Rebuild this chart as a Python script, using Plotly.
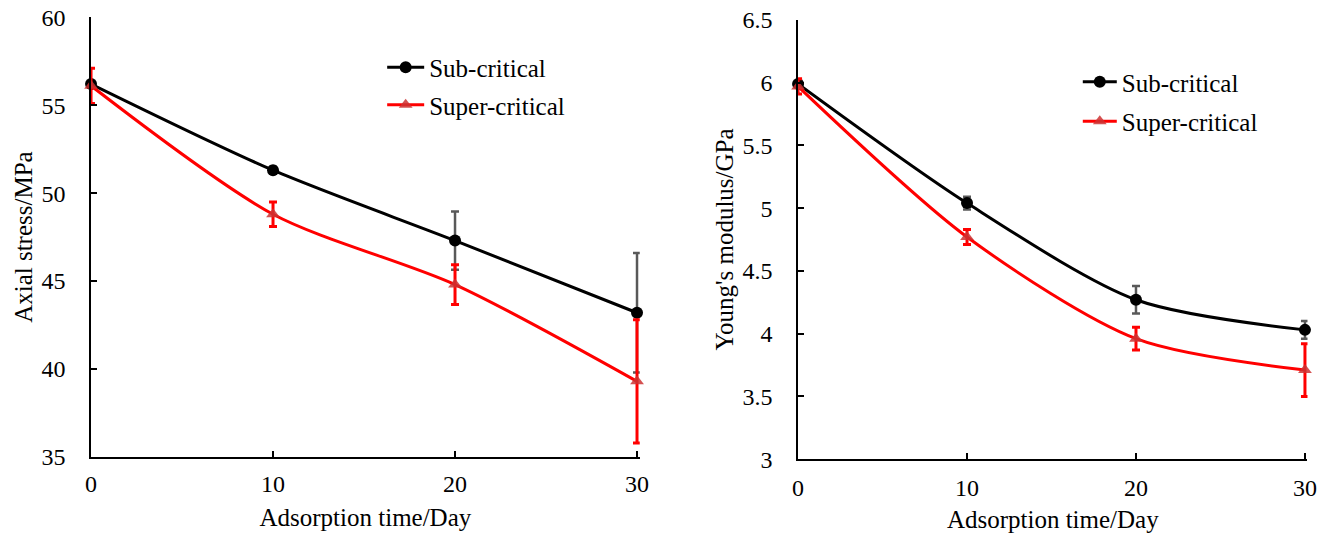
import plotly.graph_objects as go

days = [0, 10, 20, 30]

# Left panel: axial stress (MPa)
stress_sub = [56.2, 51.3, 47.3, 43.2]
stress_sub_err = [0.15, 0.2, 1.65, 3.4]
stress_super = [56.1, 48.8, 44.8, 39.3]
stress_super_err = [1.0, 0.7, 1.13, 3.5]

# Right panel: Young's modulus (GPa)
mod_sub = [5.99, 5.04, 4.27, 4.03]
mod_sub_err = [0.02, 0.05, 0.11, 0.07]
mod_super = [5.97, 4.77, 3.96, 3.71]
mod_super_err = [0.06, 0.06, 0.09, 0.21]

FONT = "Liberation Serif, Times New Roman, DejaVu Serif, serif"
FS_TICK = 24
FS_TITLE = 25
FS_LEG = 25
BLACK = "#000000"
GREY = "#595959"
RED = "#ff0000"
TRI = "rgba(205,50,50,0.85)"

fig = go.Figure()

def add_pair(xa, ya, sub, sub_err, sup, sup_err, legend):
    fig.add_trace(go.Scatter(
        x=days, y=sub, name="Sub-critical", mode="lines+markers",
        xaxis=xa, yaxis=ya, legend=legend, legendgroup="a" + legend,
        line=dict(color=BLACK, width=3, shape="spline", smoothing=0.8),
        marker=dict(symbol="circle", size=12, color=BLACK),
        error_y=dict(type="data", array=sub_err, color=GREY, thickness=2.5, width=4),
        cliponaxis=False,
    ))
    fig.add_trace(go.Scatter(
        x=days, y=sup, name="Super-critical", mode="lines+markers",
        xaxis=xa, yaxis=ya, legend=legend, legendgroup="b" + legend,
        line=dict(color=RED, width=3, shape="spline", smoothing=0.8),
        marker=dict(symbol="triangle-up", size=12, color=TRI),
        error_y=dict(type="data", array=sup_err, color=RED, thickness=3, width=4),
        cliponaxis=False,
    ))

add_pair("x", "y", stress_sub, stress_sub_err, stress_super, stress_super_err, "legend")
add_pair("x2", "y2", mod_sub, mod_sub_err, mod_super, mod_super_err, "legend2")

axis_common = dict(
    showline=True, linecolor=BLACK, linewidth=1.5, showgrid=False, zeroline=False,
    ticks="inside", ticklen=6, tickwidth=1.5, tickcolor=BLACK,
    tickfont=dict(family=FONT, size=FS_TICK, color=BLACK),
    automargin=False,
)
title_font = dict(family=FONT, size=FS_TITLE, color=BLACK)

fig.update_layout(
    width=1327, height=537,
    margin=dict(l=0, r=0, t=0, b=0),
    paper_bgcolor="white", plot_bgcolor="white",
    font=dict(family=FONT, color=BLACK, size=FS_TICK),
    xaxis=dict(domain=[0.0686, 0.4821], range=[0, 30.15], tickvals=[0, 10, 20, 30],
               ticklabelstandoff=4,
               title=dict(text="Adsorption time/Day", font=title_font, standoff=13),
               anchor="y", **axis_common),
    yaxis=dict(domain=[0.149, 0.968], range=[35, 60], tickvals=[35, 40, 45, 50, 55, 60],
               ticklabelstandoff=19,
               title=dict(text="Axial stress/MPa", font=title_font, standoff=2),
               anchor="x", **axis_common),
    xaxis2=dict(domain=[0.6014, 0.9853], range=[0, 30.15], tickvals=[0, 10, 20, 30],
                ticklabelstandoff=6,
                title=dict(text="Adsorption time/Day", font=title_font, standoff=11),
                anchor="y2", **axis_common),
    yaxis2=dict(domain=[0.145, 0.963], range=[3, 6.5], tickvals=[3, 3.5, 4, 4.5, 5, 5.5, 6, 6.5],
                ticklabelstandoff=19,
                title=dict(text="Young's modulus/GPa", font=title_font, standoff=2),
                anchor="x2", **axis_common),
    legend=dict(x=0.288, y=0.917, xanchor="left", yanchor="top",
                font=dict(family=FONT, size=FS_LEG, color=BLACK), bgcolor="rgba(0,0,0,0)",
                tracegroupgap=2, traceorder="grouped", itemwidth=37),
    legend2=dict(x=0.8122, y=0.890, xanchor="left", yanchor="top",
                 font=dict(family=FONT, size=FS_LEG, color=BLACK), bgcolor="rgba(0,0,0,0)",
                 tracegroupgap=4, traceorder="grouped", itemwidth=34),
    showlegend=True,
)

fig.write_html("out.html", config={"displayModeBar": False},
               post_script="document.body.style.margin='0';document.body.style.padding='0';")
